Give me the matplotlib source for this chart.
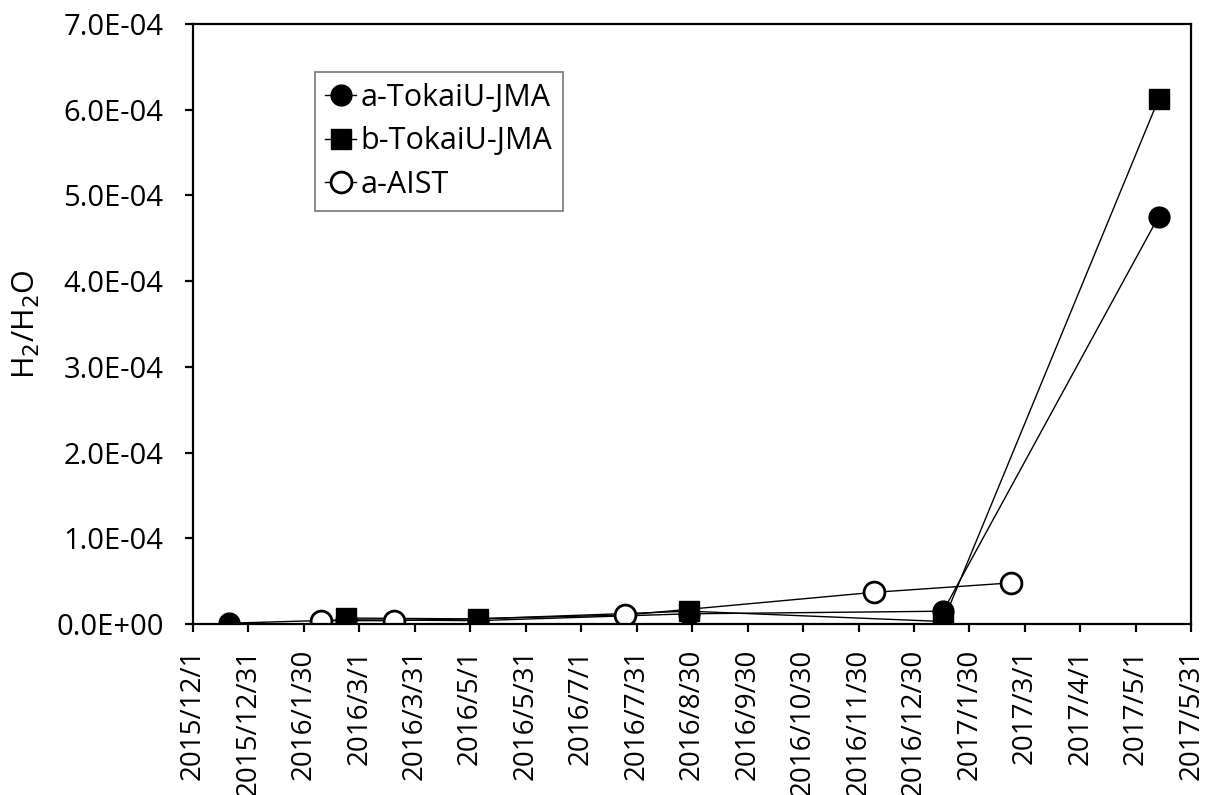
import numpy as np
import matplotlib
matplotlib.use("Agg")
import matplotlib.pyplot as plt
import matplotlib.dates as mdates
from datetime import datetime

plt.rcParams['font.family'] = ['Open Sans', 'DejaVu Sans']

# Datos
fechas_a_tokai = ["2015-12-21", "2016-02-23", "2016-05-05", "2016-08-29", "2017-01-15", "2017-05-13"]
valores_a_tokai = [1.0e-6, 5.0e-6, 4.0e-6, 1.2e-5, 1.5e-5, 4.75e-4]

fechas_b_tokai = ["2016-02-23", "2016-05-05", "2016-08-29", "2017-01-15", "2017-05-13"]
valores_b_tokai = [7.0e-6, 6.0e-6, 1.5e-5, 3.0e-6, 6.12e-4]

fechas_aist = ["2016-02-09", "2016-03-20", "2016-07-25", "2016-12-08", "2017-02-21"]
valores_aist = [4.0e-6, 4.0e-6, 1.05e-5, 3.7e-5, 4.8e-5]

etiquetas_x = ["2015/12/1", "2015/12/31", "2016/1/30", "2016/3/1", "2016/3/31",
               "2016/5/1", "2016/5/31", "2016/7/1", "2016/7/31", "2016/8/30",
               "2016/9/30", "2016/10/30", "2016/11/30", "2016/12/30", "2017/1/30",
               "2017/3/1", "2017/4/1", "2017/5/1", "2017/5/31"]
etiquetas_y = ["0.0E+00", "1.0E-04", "2.0E-04", "3.0E-04", "4.0E-04",
               "5.0E-04", "6.0E-04", "7.0E-04"]


def a_fechas(lista):
    return [datetime.strptime(s, "%Y-%m-%d") for s in lista]


fig = plt.figure(figsize=(12.12, 7.95), dpi=100)
ax = fig.add_axes([0.159, 0.215, 0.824, 0.755])

ax.plot(a_fechas(fechas_a_tokai), valores_a_tokai, color='black', lw=1.0,
        marker='o', ms=15, mfc='black', mec='black', label='a-TokaiU-JMA')
ax.plot(a_fechas(fechas_b_tokai), valores_b_tokai, color='black', lw=1.0,
        marker='s', ms=15, mfc='black', mec='black', label='b-TokaiU-JMA')
ax.plot(a_fechas(fechas_aist), valores_aist, color='black', lw=1.0,
        marker='o', ms=15, mfc='white', mec='black', mew=2.0, label='a-AIST')

x0 = mdates.date2num(datetime(2015, 12, 1))
x1 = mdates.date2num(datetime(2017, 5, 31))
ax.set_xlim(x0, x1)
ax.set_xticks(np.linspace(x0, x1, len(etiquetas_x)))
ax.set_xticklabels(etiquetas_x, rotation=90, fontsize=20)

ax.set_ylim(0, 7e-4)
ax.set_yticks(np.arange(len(etiquetas_y)) * 1e-4)
ax.set_yticklabels(etiquetas_y, fontsize=21)

ax.set_ylabel('H$_2$/H$_2$O', fontsize=22, labelpad=10)

for sp in ax.spines.values():
    sp.set_linewidth(1.6)
ax.tick_params(direction='out', length=6, width=1.6)
ax.tick_params(axis='y', pad=15)
ax.tick_params(axis='x', pad=12)

ley = ax.legend(loc='upper left', bbox_to_anchor=(0.122, 0.92), borderaxespad=0,
                fontsize=22, handlelength=1.0, handletextpad=0.15,
                labelspacing=0.45, fancybox=False, edgecolor='#555555',
                borderpad=0.35)
ley.get_frame().set_linewidth(1.2)

fig.savefig('out.png', dpi=100)
